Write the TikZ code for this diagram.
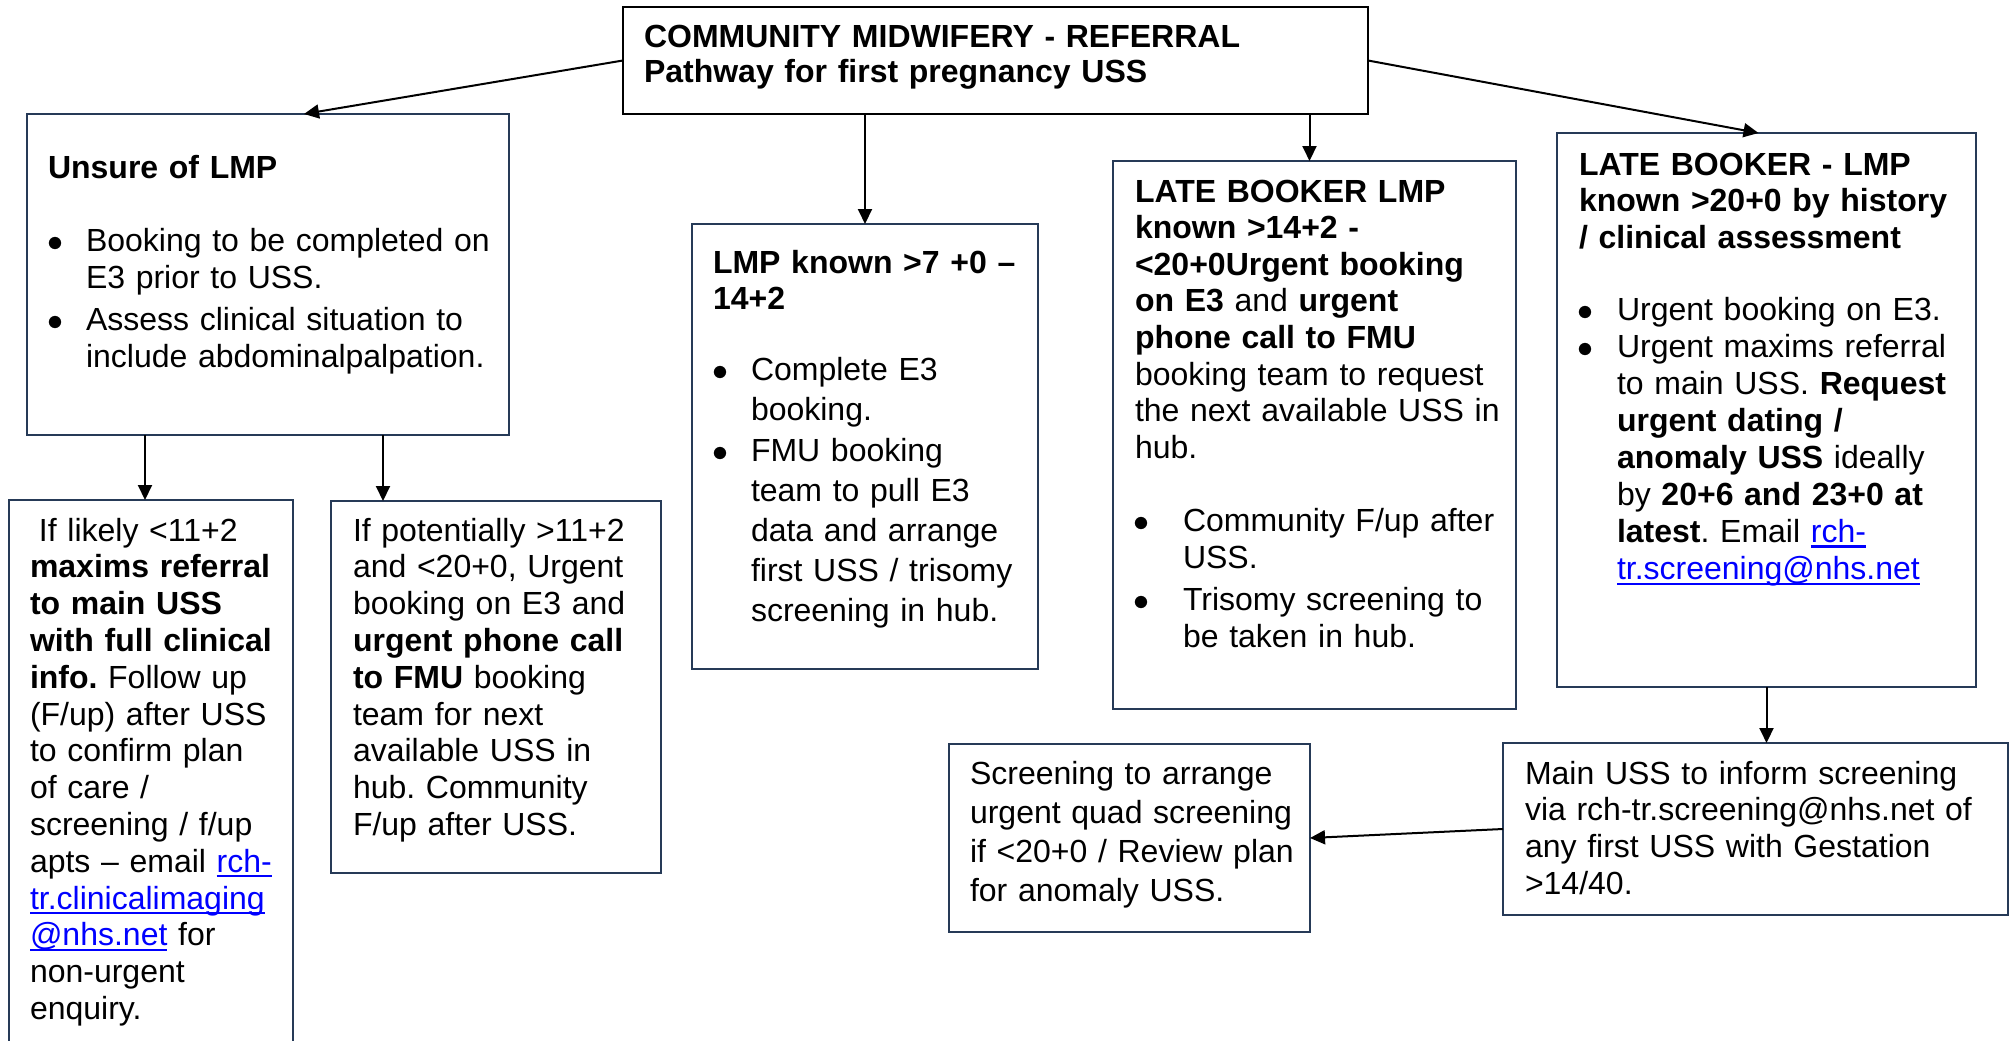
\RequirePackage{fix-cm}
\documentclass[tikz,border=0pt]{standalone}
\usepackage{fontspec}
\setmainfont{Liberation Sans}
\usetikzlibrary{arrows.meta}
\definecolor{boxc}{HTML}{263A57}
\definecolor{lnkc}{HTML}{0000FF}
\frenchspacing
\newcommand\fs[1]{\fontsize{32}{#1}\selectfont\frenchspacing}
\newcommand\bl[1]{\leavevmode\llap{$\bullet$\hspace{#1}}}
\newcommand\lnk[1]{\leavevmode{\color{lnkc}\setbox0\hbox{#1}\rlap{\rule[-5pt]{\wd0}{2.2pt}}\box0}}
\tikzset{
  box/.style={draw=boxc, line width=2.8pt, inner sep=0pt, outer sep=0pt},
  tbox/.style={draw=black, line width=2.8pt, inner sep=0pt, outer sep=0pt},
  txt/.style={anchor=base west, inner sep=0pt, outer sep=0pt, text width=700pt, align=left, font={\fs{#1}}},
  txt/.default=36.8,
  conn/.style={line width=2pt, -{Triangle[length=15pt,width=14pt]}},
}
\begin{document}
\begin{tikzpicture}[x=1pt,y=-1pt]
\useasboundingbox (0,0) rectangle (2013,1041);
\clip (0,0) rectangle (2013,1041);
\fill[white] (0,0) rectangle (2013,1041);

% boxes
\node[tbox, minimum width=745pt, minimum height=107pt] (title) at (995.5,60.5) {};
\node[box, minimum width=482pt, minimum height=321pt] (unsure) at (268,274.5) {};
\node[box, minimum width=284pt, minimum height=580pt] (boxa) at (151,790) {};
\node[box, minimum width=330pt, minimum height=372pt] (boxb) at (496,687) {};
\node[box, minimum width=346pt, minimum height=445pt] (lmp) at (865,446.5) {};
\node[box, minimum width=403pt, minimum height=548pt] (lb1) at (1314.5,435) {};
\node[box, minimum width=419pt, minimum height=554pt] (lb2) at (1766.5,410) {};
\node[box, minimum width=361pt, minimum height=188pt] (screen) at (1129.5,838) {};
\node[box, minimum width=505pt, minimum height=172pt] (main) at (1755.5,829) {};

% texts
\node[txt=35] (ttitle) at (644,48) {\textbf{COMMUNITY MIDWIFERY - REFERRAL}\\\textbf{Pathway for first pregnancy USS}};

\node[txt] (tunsureh) at (48,178) {\textbf{Unsure of LMP}};
\node[txt=37.5] (tunsureb) at (86,251) {\bl{23pt}Booking to be completed on\\E3 prior to USS.\\[4pt]\bl{23pt}Assess clinical situation to\\include abdominalpalpation.};

\node[txt] (ta) at (30,541) {\hspace*{9pt}If likely <11+2\\\textbf{maxims referral}\\\textbf{to main USS}\\\textbf{with full clinical}\\\textbf{info.} Follow up\\(F/up) after USS\\to confirm plan\\of care /\\screening / f/up\\apts – email \lnk{rch-}\\\lnk{tr.clinicalimaging}\\\lnk{@nhs.net} for\\non-urgent\\enquiry.};

\node[txt] (tb) at (353,541) {If potentially >11+2\\and <20+0, Urgent\\booking on E3 and\\\textbf{urgent phone call}\\\textbf{to FMU} booking\\team for next\\available USS in\\hub. Community\\F/up after USS.};

\node[txt=36] (tlmph) at (713,273) {\textbf{LMP known >7 +0 –}\\\textbf{14+2}};
\node[txt=40] (tlmpb) at (751,380) {\bl{23pt}Complete E3\\booking.\\[1pt]\bl{23pt}FMU booking\\team to pull E3\\data and arrange\\first USS / trisomy\\screening in hub.};

\node[txt=36.6] (tlb1h) at (1135,202) {\textbf{LATE BOOKER LMP}\\\textbf{known >14+2 -}\\\textbf{<20+0Urgent booking}\\\textbf{on E3} and \textbf{urgent}\\\textbf{phone call to FMU}\\booking team to request\\the next available USS in\\hub.};
\node[txt=37.5] (tlb1b) at (1183,531) {\bl{34pt}Community F/up after\\USS.\\[4pt]\bl{34pt}Trisomy screening to\\be taken in hub.};

\node[txt=36.5] (tlb2h) at (1579,175) {\textbf{LATE BOOKER - LMP}\\\textbf{known >20+0 by history}\\\textbf{/ clinical assessment}};
\node[txt=37.1] (tlb2b) at (1617,320) {\bl{24pt}Urgent booking on E3.\\\bl{24pt}Urgent maxims referral\\to main USS. \textbf{Request}\\\textbf{urgent dating /}\\\textbf{anomaly USS} ideally\\by \textbf{20+6 and 23+0 at}\\\textbf{latest}. Email \lnk{rch-}\\\lnk{tr.screening@nhs.net}};

\node[txt=39.3] (tscreen) at (970,784) {Screening to arrange\\urgent quad screening\\if <20+0 / Review plan\\for anomaly USS.};
\node[txt=36.7] (tmain) at (1525,784) {Main USS to inform screening\\via rch-tr.screening@nhs.net of\\any first USS with Gestation\\>14/40.};

% connectors
\coordinate (uin) at ([xshift=36pt]unsure.north);
\coordinate (lb2in) at ([xshift=-8pt]lb2.north);
\coordinate (lb1in) at ([xshift=-5pt]lb1.north);
\coordinate (ain) at ([xshift=-6pt]boxa.north);
\coordinate (bin) at ([xshift=-113pt]boxb.north);
\draw[conn] (title.west) -- (uin);
\draw[conn] (title.east) -- (lb2in);
\draw[conn] (title.south -| lmp.north) -- (lmp.north);
\draw[conn] (title.south -| lb1in) -- (lb1in);
\draw[conn] (unsure.south -| ain) -- (ain);
\draw[conn] (unsure.south -| bin) -- (bin);
\draw[conn] (lb2.south) -- (lb2.south |- main.north);
\draw[conn] (main.west) -- (screen.east);
\end{tikzpicture}
\end{document}
